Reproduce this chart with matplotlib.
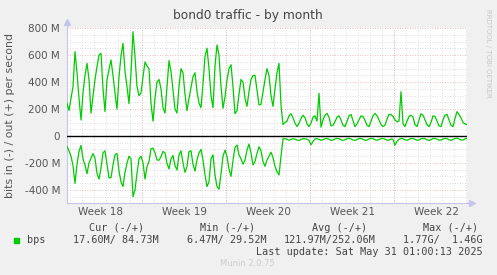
import numpy as np
import matplotlib
matplotlib.use("Agg")
import matplotlib.pyplot as plt
from matplotlib.patches import Rectangle

# bond0 traffic, 4-hourly samples in Mbit/s (start Mon Apr 28 ~18:00)
out_mbps = [
    243, 190, 280, 367, 627, 470, 280, 119, 320, 450,
    540, 420, 170, 295, 420, 515, 602, 614, 350, 181,
    416, 495, 565, 450, 320, 200, 440, 595, 689, 480,
    367, 240, 470, 775, 590, 367, 300, 320, 440, 550,
    520, 500, 243, 110, 280, 400, 420, 350, 210, 170,
    360, 560, 480, 340, 200, 170, 370, 500, 470, 310,
    188, 280, 360, 441, 470, 330, 245, 210, 390, 590,
    652, 500, 300, 210, 520, 676, 600, 370, 206, 290,
    416, 500, 530, 367, 165, 188, 310, 420, 400, 280,
    220, 330, 420, 450, 450, 342, 230, 235, 330, 420,
    500, 450, 300, 220, 350, 470, 540, 230, 85, 100,
    110, 150, 165, 135, 95, 70, 95, 130, 155, 135,
    90, 70, 95, 140, 150, 110, 317, 65, 120, 155,
    168, 140, 75, 80, 106, 140, 150, 120, 80, 69,
    110, 150, 160, 115, 69, 90, 120, 150, 145, 115,
    80, 69, 110, 150, 168, 150, 120, 85, 70, 80,
    125, 160, 160, 145, 120, 105, 110, 329, 90, 70,
    110, 145, 155, 140, 82, 70, 120, 165, 155, 120,
    85, 69, 100, 150, 145, 110, 75, 69, 120, 155,
    160, 120, 80, 69, 131, 181, 160, 135, 100, 90,
    85,
]
in_mbps = [
    79, 110, 150, 220, 352, 210, 115, 70, 170, 215,
    280, 200, 165, 130, 165, 277, 320, 240, 125, 110,
    210, 310, 310, 215, 140, 130, 260, 340, 376, 270,
    203, 150, 170, 451, 400, 277, 170, 150, 200, 320,
    228, 190, 95, 90, 125, 178, 180, 155, 115, 125,
    203, 245, 170, 145, 220, 253, 140, 110, 200, 270,
    228, 115, 110, 210, 260, 178, 125, 100, 180, 290,
    376, 340, 170, 140, 290, 376, 395, 280, 150, 105,
    153, 245, 300, 180, 85, 67, 140, 170, 210, 180,
    104, 60, 125, 215, 190, 129, 80, 110, 190, 225,
    178, 150, 120, 160, 225, 265, 290, 150, 20, 20,
    25, 32, 25, 20, 24, 30, 33, 25, 20, 20,
    25, 32, 66, 40, 22, 20, 25, 32, 28, 20,
    18, 24, 32, 30, 22, 18, 20, 28, 33, 28,
    20, 18, 22, 30, 33, 26, 19, 18, 25, 32,
    30, 22, 18, 20, 27, 32, 26, 20, 18, 24,
    31, 30, 22, 25, 68, 40, 25, 18, 20, 28,
    32, 26, 19, 18, 25, 32, 30, 21, 18, 20,
    28, 33, 27, 19, 18, 24, 31, 30, 22, 18,
    20, 28, 32, 26, 19, 16, 22, 30, 30, 22,
    17.6,
]

week_labels = ["Week 18", "Week 19", "Week 20", "Week 21", "Week 22"]
week_label_hours = [66, 234, 402, 570, 738]
week_start_hours = [150, 318, 486, 654]
y_ticks = [-400, -200, 0, 200, 400, 600, 800]

legend_heads = ["Cur (-/+)", "Min (-/+)", "Avg (-/+)", "Max (-/+)"]
legend_vals = ["17.60M/ 84.73M", "6.47M/ 29.52M", "121.97M/252.06M", "1.77G/  1.46G"]

W, H = 497, 275
fig = plt.figure(figsize=(W / 100, H / 100), dpi=100, facecolor="#f0f0f0")
ax = fig.add_axes([67 / W, 1 - 203.3 / H, 400 / W, 175 / H])
ax.set_facecolor("white")

green = "#00cc00"
minor_c = "#d4d4d4"
major_c = "#e8a8a8"
axis_c = "#c4c4ec"
text_c = "#555555"

hours_out = np.arange(len(out_mbps)) * 4
hours_in = np.arange(len(in_mbps)) * 4

# grid
for h in range(6, 801, 24):
    ax.axvline(h, color=minor_c, lw=0.6, ls=(0, (1, 2)), zorder=1)
for h in week_start_hours:
    ax.axvline(h, color=major_c, lw=0.6, ls=(0, (1, 2)), zorder=1)
for v in range(-450, 801, 50):
    if v == 0:
        continue
    c = major_c if v % 200 == 0 else minor_c
    ax.axhline(v, color=c, lw=0.6, ls=(0, (1, 2)), zorder=1)

ax.axhline(0, color="black", lw=1.0, zorder=3)
ax.plot(hours_out, out_mbps, color=green, lw=0.9, zorder=4)
ax.plot(hours_in, -np.array(in_mbps), color=green, lw=0.9, zorder=4)

ax.set_xlim(0, 800)
ax.set_ylim(-500, 800)

for s in ["top", "right"]:
    ax.spines[s].set_visible(False)
for s in ["left", "bottom"]:
    ax.spines[s].set_color(axis_c)
    ax.spines[s].set_linewidth(0.8)
# axis arrows
ax.plot([0, 0], [1, 1.03], color=axis_c, lw=0.8, transform=ax.transAxes, clip_on=False)
ax.plot([0], [1.035], marker="^", ms=4, color=axis_c, transform=ax.transAxes, clip_on=False)
ax.plot([1, 1.01], [0, 0], color=axis_c, lw=0.8, transform=ax.transAxes, clip_on=False)
ax.plot([1.0125], [0], marker=">", ms=4, color=axis_c, transform=ax.transAxes, clip_on=False)

ax.set_yticks(y_ticks)
ax.set_yticklabels([("%d M" % v) if v != 0 else "0" for v in y_ticks])
ax.set_xticks(week_label_hours)
ax.set_xticklabels(week_labels)
ax.tick_params(axis="both", length=0, labelsize=7.5, colors=text_c)
ax.tick_params(axis="y", pad=5)
ax.tick_params(axis="x", pad=3)

fig.text(248 / W, 1 - 15 / H, "bond0 traffic - by month", ha="center", va="center",
         fontsize=8.8, color="#444444")
fig.text(10 / W, 1 - 115 / H, "bits in (-) / out (+) per second", rotation=90,
         ha="center", va="center", fontsize=7.9, color=text_c)
fig.text(488 / W, 1 - 53 / H, "RRDTOOL / TOBI OETIKER", rotation=270,
         ha="center", va="center", fontsize=5, color="#c8c8c8")

mono = "DejaVu Sans Mono"
head_x = [89.3, 200.3, 311.7, 422.7]
val_x = [72.7, 186.7, 283.3, 403.3]
for hx, vx, hd, vl in zip(head_x, val_x, legend_heads, legend_vals):
    fig.text(hx / W, 1 - 227.7 / H, hd, family=mono, fontsize=7.3, color="#444444",
             ha="left", va="center")
    fig.text(vx / W, 1 - 240 / H, vl, family=mono, fontsize=7.3, color="#444444",
             ha="left", va="center")
fig.patches.append(Rectangle((14 / W, 1 - 243 / H), 5 / W, 5 / H, color=green,
                             transform=fig.transFigure, figure=fig))
fig.text(26.7 / W, 1 - 240 / H, "bps", family=mono, fontsize=7.3, color="#444444",
         ha="left", va="center")
fig.text(482.7 / W, 1 - 251.7 / H, "Last update: Sat May 31 01:00:13 2025", family=mono,
         fontsize=7.3, color="#444444", ha="right", va="center")
fig.text(247.7 / W, 1 - 263.3 / H, "Munin 2.0.75", fontsize=6, color="#cccccc",
         ha="center", va="center")

fig.savefig("out.png", dpi=100, facecolor=fig.get_facecolor())
